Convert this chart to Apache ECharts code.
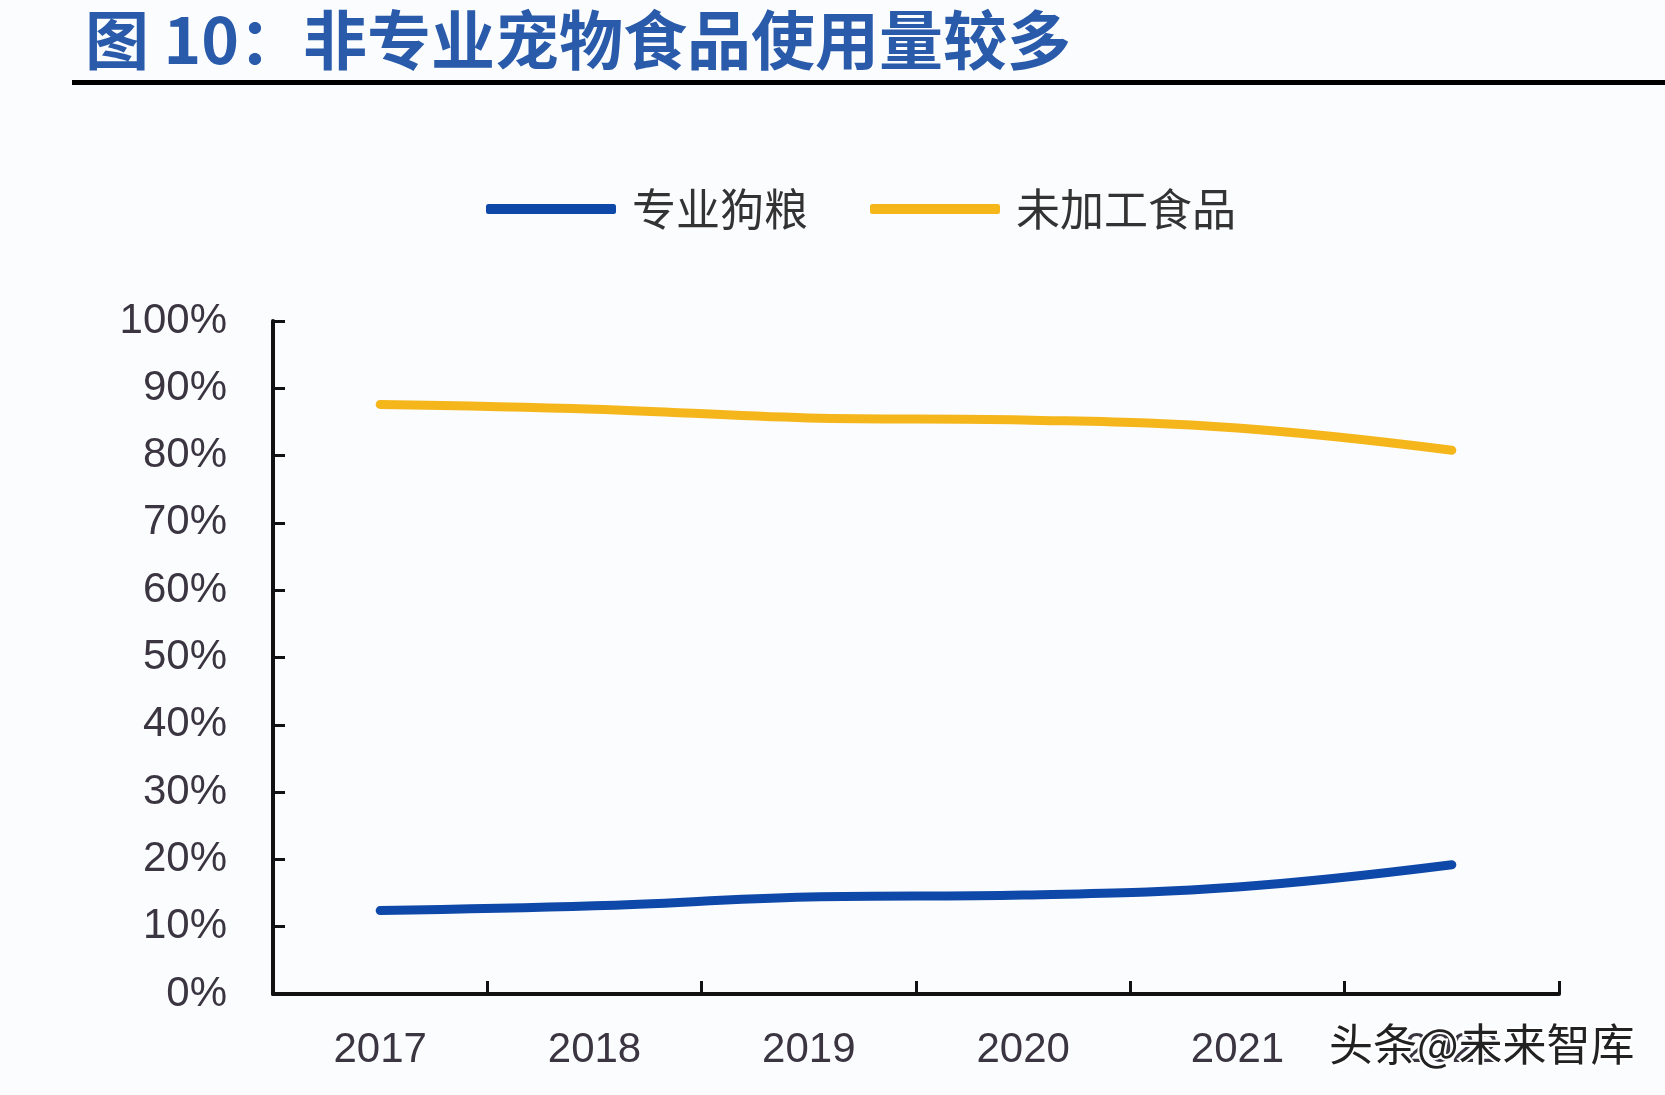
<!DOCTYPE html>
<html>
<head>
<meta charset="utf-8">
<script src="https://cdn.jsdelivr.net/npm/echarts@6/dist/echarts.min.js"></script>
<style>
html,body{margin:0;padding:0;background:#fbfcfe;}
#chart{width:1665px;height:1095px;}
</style>
</head>
<body>
<div id="chart"></div>
<script>
const titleText = '图 10：非专业宠物食品使用量较多';
const categories = ['2017', '2018', '2019', '2020', '2021', '2022'];
const seriesNames = ['专业狗粮', '未加工食品'];
const proDogFood = [12.4, 13.1, 14.4, 14.7, 15.9, 19.2];
const unprocessedFood = [87.6, 86.9, 85.6, 85.3, 84.1, 80.8];
const yTicks = [0, 10, 20, 30, 40, 50, 60, 70, 80, 90, 100];
const watermark = '头条@未来智库';

const chart = echarts.init(document.getElementById('chart'), null, {renderer: 'canvas'});
const labelFont = '"Liberation Sans", Arial, sans-serif';
chart.setOption({
  backgroundColor: '#fbfcfe',
  animation: false,
  title: {
    text: titleText,
    left: 80,
    top: 3,
    textStyle: {
      fontFamily: '"Noto Sans CJK SC", sans-serif',
      fontWeight: 'bold',
      fontSize: 64,
      color: '#2a5bab'
    }
  },
  legend: {
    top: 182,
    left: 481,
    itemWidth: 130,
    itemHeight: 10,
    itemGap: 62,
    icon: 'roundRect',
    textStyle: {
      fontFamily: '"Noto Sans CJK SC", sans-serif',
      fontSize: 44,
      color: '#333',
      padding: [0, 0, 0, 11]
    },
    data: seriesNames
  },
  grid: {left: 273, right: 106, top: 321, bottom: 101, containLabel: false},
  xAxis: {
    type: 'category',
    data: categories,
    boundaryGap: true,
    axisLine: {lineStyle: {color: '#111', width: 4}},
    axisTick: {show: true, alignWithLabel: false, inside: true, length: 13, lineStyle: {color: '#111', width: 3}},
    axisLabel: {fontFamily: labelFont, fontSize: 42, color: '#3a3540', margin: 35}
  },
  yAxis: {
    type: 'value',
    min: yTicks[0],
    max: yTicks[yTicks.length - 1],
    interval: 10,
    splitLine: {show: false},
    axisLine: {show: true, lineStyle: {color: '#111', width: 4}},
    axisTick: {show: true, inside: true, length: 12, lineStyle: {color: '#111', width: 3}},
    axisLabel: {fontFamily: labelFont, fontSize: 42, color: '#3a3540', margin: 46, formatter: '{value}%'}
  },
  series: [
    {
      name: seriesNames[0], type: 'line', data: proDogFood, smooth: 0.4,
      showSymbol: false, symbol: 'none',
      itemStyle: {color: '#0e48a8'},
      lineStyle: {color: '#0e48a8', width: 9, cap: 'round', join: 'round'}
    },
    {
      name: seriesNames[1], type: 'line', data: unprocessedFood, smooth: 0.4,
      showSymbol: false, symbol: 'none',
      itemStyle: {color: '#f5b61b'},
      lineStyle: {color: '#f5b61b', width: 9, cap: 'round', join: 'round'}
    }
  ],
  graphic: [
    {type: 'rect', left: 72, top: 80, shape: {width: 1593, height: 5}, style: {fill: '#000'}},
    {
      type: 'text', left: 1327, top: 1020, z: 100,
      style: {
        text: watermark,
        fontFamily: '"Noto Sans CJK SC", sans-serif',
        fontSize: 44,
        fill: '#222',
        stroke: '#ffffff',
        lineWidth: 4
      }
    }
  ]
});
</script>
</body>
</html>
